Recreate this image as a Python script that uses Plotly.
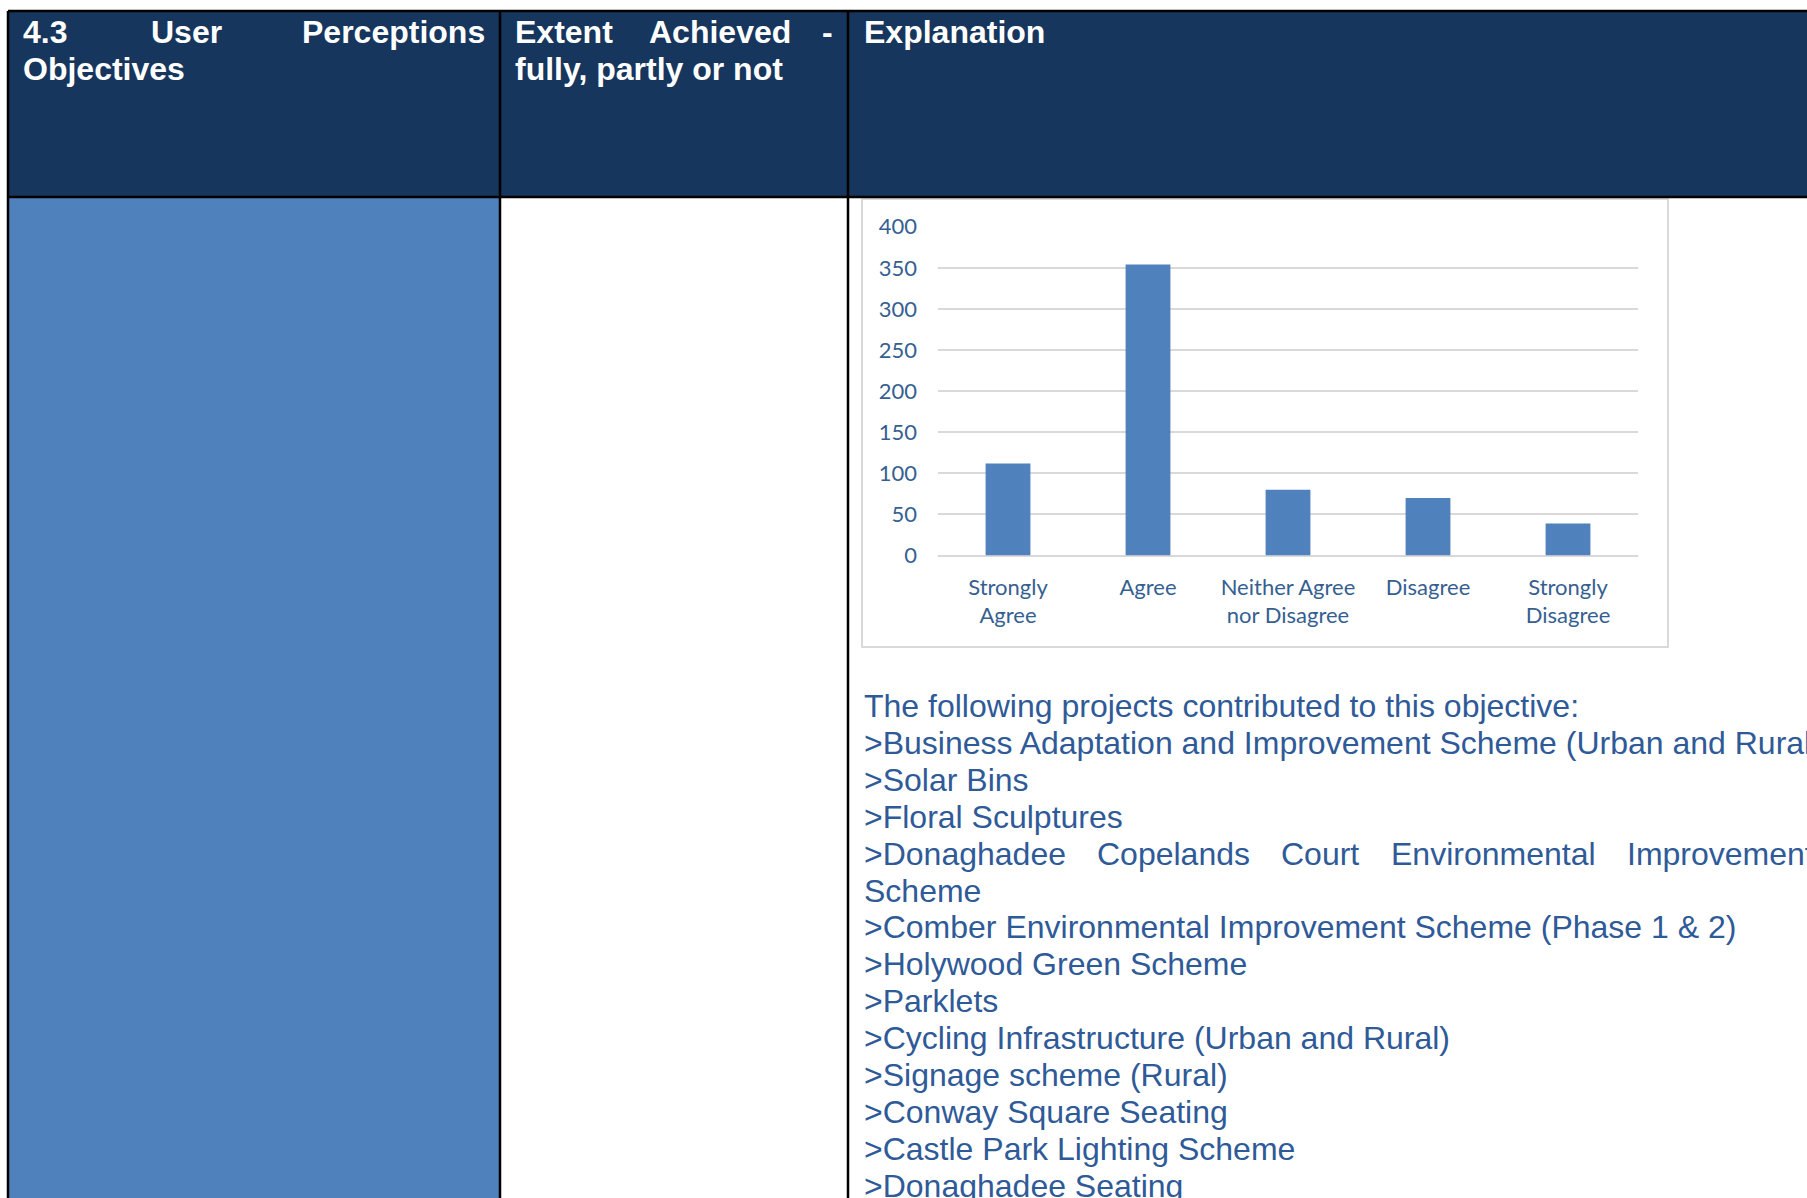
"""Survey responses table page, rebuilt with Plotly"""
import plotly.graph_objects as go

# Chart data
categories = ['Strongly<br>Agree', 'Agree', 'Neither Agree<br>nor Disagree',
              'Disagree', 'Strongly<br>Disagree']
responses = [112, 354, 80, 70, 39]
y_ticks = [0, 50, 100, 150, 200, 250, 300, 350, 400]

# Table text
header_col1 = ['4.3', 'User', 'Perceptions', 'Objectives']
header_col2 = ['Extent', 'Achieved', '-', 'fully, partly or not']
header_col3 = 'Explanation'
project_lines = [
    'The following projects contributed to this objective:',
    '>Business Adaptation and Improvement Scheme (Urban and Rural)',
    '>Solar Bins',
    '>Floral Sculptures',
    '>Donaghadee Copelands Court Environmental Improvement',
    'Scheme',
    '>Comber Environmental Improvement Scheme (Phase 1 & 2)',
    '>Holywood Green Scheme',
    '>Parklets',
    '>Cycling Infrastructure (Urban and Rural)',
    '>Signage scheme (Rural)',
    '>Conway Square Seating',
    '>Castle Park Lighting Scheme',
    '>Donaghadee Seating',
]

W, H = 1807, 1198
OFFSET = 0  # body margin is removed in the page itself
NAVY = '#17365D'
BLUE = '#4F81BD'
TEXT_BLUE = '#2F5A98'
AXIS_BLUE = '#365F91'
GRID = '#D9D9D9'


def px(x):
    """page pixel x -> paper fraction"""
    return (x - OFFSET) / W


def py(y):
    """page pixel y -> paper fraction"""
    return 1 - (y - OFFSET) / H


fig = go.Figure()

fig.add_trace(go.Bar(
    x=categories,
    y=responses,
    marker=dict(color=BLUE, line=dict(width=0)),
    hovertemplate='%{x}: %{y}<extra></extra>',
    showlegend=False
))

# Table cells and borders
shapes = [
    dict(type='rect', x0=px(8), x1=px(W + 20), y0=py(11), y1=py(197),
         fillcolor=NAVY, line=dict(width=0)),
    dict(type='rect', x0=px(8), x1=px(500), y0=py(197), y1=py(H + 20),
         fillcolor=BLUE, line=dict(width=0)),
    # chart frame
    dict(type='rect', x0=px(862), x1=px(1668), y0=py(199), y1=py(647),
         fillcolor='white', line=dict(color=GRID, width=2)),
]
border = dict(color='black', width=2.5)
for x0, y0, x1, y1 in [(8, 11, W + 20, 11), (8, 197, W + 20, 197),
                       (8, 11, 8, H + 20), (500, 11, 500, H + 20),
                       (848, 11, 848, H + 20)]:
    shapes.append(dict(type='line', x0=px(x0), x1=px(x1), y0=py(y0), y1=py(y1),
                       line=border))
for s in shapes:
    s.update(xref='paper', yref='paper', layer='below')

# Header text (justified words placed one by one)
head_font = dict(family='Arial, Liberation Sans', size=32, color='white')
annotations = []
head_pos = [(21, 32, 'left'), (149, 32, 'left'), (487, 32, 'right'), (21, 69, 'left')]
for word, (x, y, anchor) in zip(header_col1, head_pos):
    annotations.append(dict(text=f'<b>{word}</b>', x=px(x), y=py(y), xanchor=anchor))
head_pos = [(513, 32, 'left'), (647, 32, 'left'), (827, 32, 'center'), (513, 69, 'left')]
for word, (x, y, anchor) in zip(header_col2, head_pos):
    annotations.append(dict(text=f'<b>{word}</b>', x=px(x), y=py(y), xanchor=anchor))
annotations.append(dict(text=f'<b>{header_col3}</b>', x=px(862), y=py(32), xanchor='left'))
for a in annotations:
    a.update(font=head_font)

# Project list below the chart
body_font = dict(family='Arial, Liberation Sans', size=32, color=TEXT_BLUE)
line_y0, line_step = 706, 36.9
justified_x = [862, 1095, 1279, 1389, 1625]
for i, line in enumerate(project_lines):
    y = py(line_y0 + i * line_step)
    if i == 4:
        for word, x in zip(line.split(' '), justified_x):
            annotations.append(dict(text=word, x=px(x), y=y, xanchor='left', font=body_font))
    else:
        annotations.append(dict(text=line, x=px(862), y=y, xanchor='left', font=body_font))

for a in annotations:
    a.update(xref='paper', yref='paper', yanchor='middle', showarrow=False)

chart_font = dict(family='Lato, Noto Sans', size=22, color=AXIS_BLUE)

fig.update_layout(
    template='none',
    width=W,
    height=H,
    autosize=False,
    margin=dict(l=0, r=0, t=0, b=0, pad=0, autoexpand=False),
    paper_bgcolor='white',
    plot_bgcolor='rgba(0,0,0,0)',
    bargap=0.68,
    shapes=shapes,
    annotations=annotations,
    xaxis=dict(
        domain=[px(938), px(1638)],
        showgrid=False,
        showline=False,
        ticks='',
        tickfont=chart_font,
        ticklabelstandoff=16,
        automargin=False,
        fixedrange=True
    ),
    yaxis=dict(
        domain=[py(555.5), py(226.7)],
        range=[0, 400],
        tickvals=y_ticks,
        showgrid=True,
        gridcolor=GRID,
        gridwidth=1.5,
        zeroline=True,
        zerolinecolor=GRID,
        zerolinewidth=1.5,
        showline=False,
        ticks='',
        tickfont=chart_font,
        ticklabelstandoff=20,
        automargin=False,
        fixedrange=True
    ),
    hovermode='closest'
)

fig.write_html(
    "out.html",
    config=dict(displayModeBar=False, responsive=False),
    post_script="document.body.style.margin='0';document.body.style.overflow='hidden';"
)
